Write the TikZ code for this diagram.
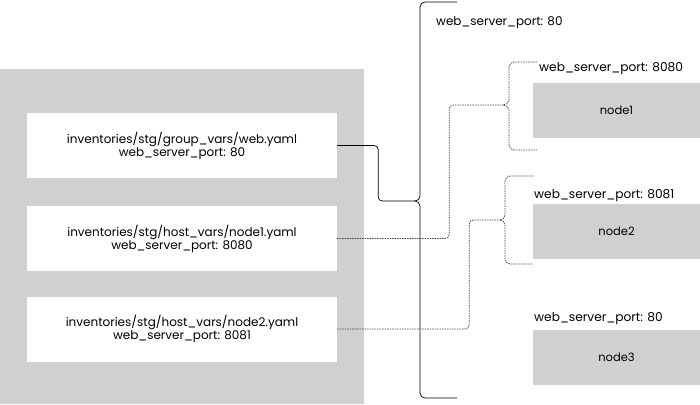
\documentclass[tikz,border=0pt]{standalone}
\usepackage{fontspec}
\setmainfont{Poppins}
\usepackage{tikz}
\usetikzlibrary{positioning}
\definecolor{panelgray}{RGB}{208,208,208}
\definecolor{linkgray}{RGB}{70,70,70}

\begin{document}
\begin{tikzpicture}[x=1pt,y=-1pt]
\tikzstyle{every node}=[font=\fontsize{12}{13}\selectfont, inner sep=0pt]
\tikzstyle{varfile}=[fill=white, minimum width=310pt, minimum height=65pt, align=center]
\tikzstyle{host}=[fill=panelgray, minimum width=167pt, minimum height=55pt, font=\fontsize{11.5}{13}\selectfont]
\tikzstyle{port}=[anchor=base west]
\tikzstyle{hostport}=[port, font=\fontsize{12.2}{14}\selectfont]
\tikzstyle{solidlink}=[draw=black, line width=0.7pt, rounded corners=4pt]
\tikzstyle{dotlink}=[draw=linkgray, line width=0.8pt, dash pattern=on 1.5pt off 1pt, rounded corners=4pt]
\useasboundingbox (0,0) rectangle (700,404);
% inventory side
\fill[panelgray] (0,69) rectangle (364,404);
\node[varfile] (gvars) at (182,145.5) {inventories/stg/group\_vars/web.yaml\\web\_server\_port: 80};
\node[varfile] (hvars1) at (182,238.5) {inventories/stg/host\_vars/node1.yaml\\web\_server\_port: 8080};
\node[varfile] (hvars2) at (182,329) {inventories/stg/host\_vars/node2.yaml\\web\_server\_port: 8081};
% hosts
\node[host] (node1) at (616.5,110.5) {node1};
\node[host] (node2) at (616.5,231.5) {node2};
\node[host] (node3) at (616.5,357) {node3};
\node[port] (allport) at (436,26) {web\_server\_port: 80};
\node[hostport] (port1) at (539,71) {web\_server\_port: 8080};
\node[hostport] (port2) at (534,198) {web\_server\_port: 8081};
\node[hostport] (port3) at (534,321) {web\_server\_port: 80};
% braces
\coordinate (allTip) at (415,201);
\coordinate (n1Tip) at (503,105);
\coordinate (n2Tip) at (500,220);
\draw[line width=0.7pt] (457,2) -- (425,2) to[out=180,in=90] (420,7) -- (420,196)
  to[out=-90,in=0] (allTip) to[out=0,in=90] (420,206) -- (420,393)
  to[out=-90,in=180] (425,398) -- (457,398);
\draw[dotlink, rounded corners=0pt] (537,62) -- (514,62) to[out=180,in=90] (509,67) -- (509,100)
  to[out=-90,in=0] (n1Tip) to[out=0,in=90] (509,110) -- (509,145)
  to[out=-90,in=180] (514,150) -- (537,150);
\draw[dotlink, rounded corners=0pt] (533,176) -- (510,176) to[out=180,in=90] (505,181) -- (505,215)
  to[out=-90,in=0] (n2Tip) to[out=0,in=90] (505,225) -- (505,259)
  to[out=-90,in=180] (510,264) -- (533,264);
% links
\draw[solidlink] (gvars.east) -- ++(41,0) |- (allTip);
\draw[dotlink] (hvars1.east) -- ++(112,0) |- (n1Tip);
\draw[dotlink] (hvars2.east) -- ++(132,0) |- (n2Tip);
\end{tikzpicture}
\end{document}
